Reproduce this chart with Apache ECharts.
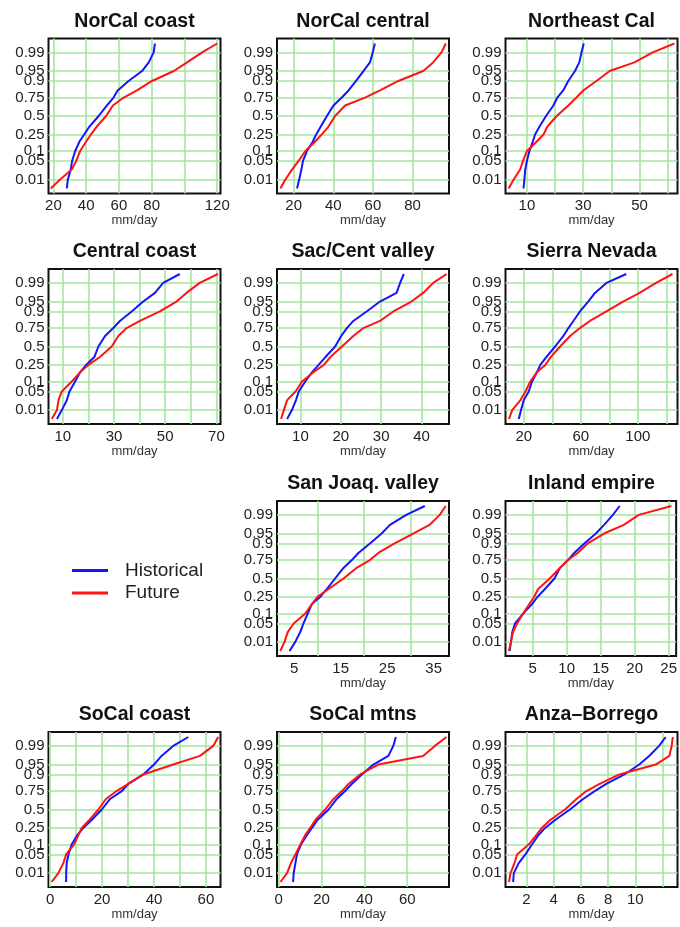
<!DOCTYPE html>
<html><head><meta charset="utf-8">
<script src="https://cdn.jsdelivr.net/npm/echarts@6/dist/echarts.min.js"></script>
<style>html,body{margin:0;padding:0;background:#fff}#chart{width:680px;height:927px}</style>
</head><body><div id="chart"></div>
<script>
// cumulative probability levels at which each curve was read
const probLevels = [0.004, 0.01, 0.025, 0.05, 0.1, 0.175, 0.25, 0.35, 0.5, 0.65, 0.75, 0.825, 0.9, 0.95, 0.975, 0.99, 0.996];
const yTickProbs = [0.01, 0.05, 0.1, 0.25, 0.5, 0.75, 0.9, 0.95, 0.99];
const yTickLabels = ['0.01', '0.05', '0.1', '0.25', '0.5', '0.75', '0.9', '0.95', '0.99'];

const regionNames = ['NorCal coast', 'NorCal central', 'Northeast Cal', 'Central coast', 'Sac/Cent valley', 'Sierra Nevada',
  'San Joaq. valley', 'Inland empire', 'SoCal coast', 'SoCal mtns', 'Anza\u2013Borrego'];
const panelSlots = [0, 1, 2, 3, 4, 5, 7, 8, 9, 10, 11];

const xRanges = [[17, 122], [11.6, 98.4], [2.4, 63.5], [4.4, 71.6], [4.2, 46.8], [7.2, 127.8],
  [1.3, 38.3], [1.0, 26.1], [-0.6, 65.6], [-0.8, 79.5], [0.47, 13.1]];
const xTickLabels = [[20, 40, 60, 80, 120], [20, 40, 60, 80], [10, 30, 50], [10, 30, 50, 70], [10, 20, 30, 40], [20, 60, 100],
  [5, 15, 25, 35], [5, 10, 15, 20, 25], [0, 20, 40, 60], [0, 20, 40, 60], [2, 4, 6, 8, 10]];
const xGridValues = [[20, 40, 60, 80, 100, 120], [20, 40, 60, 80], [10, 20, 30, 40, 50, 60], [10, 20, 30, 40, 50, 60, 70],
  [10, 20, 30, 40], [20, 40, 60, 80, 100, 120], [10, 20, 30], [5, 10, 15, 20, 25], [0, 10, 20, 30, 40, 50, 60],
  [0, 20, 40, 60], [2, 4, 6, 8, 10, 12]];

// mm/day values at each probability level (Historical / Future)
const histNorCalCoast   = [28.2, 28.8, 30.6, 31.4, 33.3, 35.9, 38.8, 42, 47.6, 52.7, 56.7, 59.2, 65.9, 74.1, 78.2, 81.2, 82];
const futNorCalCoast    = [18.4, 24.1, 31.2, 33.9, 36.3, 40, 42.9, 46.5, 52.2, 56.3, 62.9, 71, 80.2, 93.5, 101.6, 110.8, 120];
const histNorCalCentral = [21.7, 22.8, 23.9, 24.7, 26.7, 29.7, 31.4, 33.7, 36.8, 40.1, 44.3, 47.7, 51.5, 55.2, 58.5, 59.9, 61];
const futNorCalCentral  = [13.3, 15.8, 19.2, 22.5, 25.9, 30.9, 34.2, 37.6, 40.9, 46, 56, 63.6, 72.8, 85.4, 90.4, 94.6, 96.8];
const histNortheastCal  = [8.8, 9.1, 9.4, 10, 10.9, 12.1, 12.9, 14.5, 16.8, 19.4, 20.8, 22.9, 24.7, 27.1, 28.6, 29.4, 30.2];
const futNortheastCal   = [3.5, 5.3, 7.6, 8.6, 10, 13.5, 15.9, 17.3, 20.6, 24.7, 27.6, 30, 34.7, 39.4, 48.2, 54.7, 62.4];
const histCentralCoast  = [7.7, 9.6, 11.6, 12.6, 14.8, 16.8, 19.1, 22.3, 23.9, 26.5, 29.7, 32.3, 36.9, 41.4, 46, 49.2, 55.7];
const futCentralCoast   = [5.7, 7.7, 8.3, 9.6, 13.5, 16.8, 20, 24.5, 29.1, 31.7, 34.9, 40.1, 47.9, 54.4, 58.3, 63.5, 70.6];
const histSacValley     = [6.7, 7.9, 8.9, 9.6, 11.2, 12.9, 14.5, 16.2, 18.6, 20.1, 21.5, 23.1, 26.4, 29.7, 33.8, 34.7, 35.6];
const futSacValley      = [5.2, 5.9, 6.7, 8.8, 10.4, 13.3, 15.8, 17.4, 20.3, 23.1, 25.6, 29.7, 33, 37.5, 40.4, 42.9, 46.2];
const histSierraNevada  = [16.5, 18.1, 20, 23.5, 25.8, 29.3, 31.6, 35.8, 42, 47.8, 51.3, 54.8, 59.4, 65.2, 69.9, 78, 91.9];
const futSierraNevada   = [9.6, 11.9, 17.7, 21.2, 24.6, 29.3, 35.1, 39, 45.5, 52.5, 59.4, 66.4, 78, 89.6, 101.2, 112.8, 124.3];
const histSanJoaquin    = [4, 5.2, 6.3, 7, 7.9, 8.8, 10.6, 12, 13.8, 15.6, 17.4, 18.8, 21.3, 23.8, 25.6, 29.1, 33.1];
const futSanJoaquin     = [2, 2.9, 3.6, 4.9, 7.4, 8.8, 10, 12.4, 15.6, 18.4, 21.3, 23.1, 26.6, 30.6, 34.1, 36.3, 37.6];
const histInlandEmpire  = [1.6, 1.8, 2, 2.4, 3.6, 4.9, 5.7, 6.8, 8.2, 9, 10.2, 11.1, 12.6, 14.3, 15.5, 16.8, 17.8];
const futInlandEmpire   = [1.5, 1.8, 2.1, 2.7, 3.6, 4.5, 5.2, 5.8, 7.5, 9, 10.2, 11.6, 13.1, 15.5, 18.4, 20.6, 25.4];
const histSoCalCoast    = [6.2, 6.2, 6.4, 7.1, 8.3, 10.5, 12.8, 16, 19.9, 23.1, 27.6, 30.1, 35.9, 40, 42.9, 47.4, 53.2];
const futSoCalCoast     = [0.6, 3.2, 5.1, 6.2, 9.2, 10.9, 12.2, 15.1, 18.6, 21.5, 25.6, 30.1, 35.9, 47.4, 57.7, 62.8, 64.7];
const histSoCalMtns     = [6.7, 7, 7.8, 8.5, 10.4, 13.2, 15.5, 18.1, 23.3, 27.1, 31, 34.1, 38.8, 44.2, 51.2, 53.5, 54.7];
const futSoCalMtns      = [0.8, 3.9, 5.7, 7.8, 10.1, 12.4, 14.7, 17.1, 21.7, 25.6, 29.5, 32.6, 38, 46.5, 67.4, 72.9, 78.3];
const histAnzaBorrego   = [1.03, 1.08, 1.44, 1.93, 2.41, 2.9, 3.38, 4.11, 5.2, 6.17, 7.02, 7.87, 9.2, 10.29, 11.02, 11.75, 12.23];
const futAnzaBorrego    = [0.72, 0.84, 1.13, 1.32, 2.17, 2.73, 3.14, 3.75, 4.84, 5.68, 6.41, 7.38, 8.84, 11.5, 12.5, 12.67, 12.76];

const historical = [histNorCalCoast, histNorCalCentral, histNortheastCal, histCentralCoast, histSacValley, histSierraNevada,
  histSanJoaquin, histInlandEmpire, histSoCalCoast, histSoCalMtns, histAnzaBorrego];
const future = [futNorCalCoast, futNorCalCentral, futNortheastCal, futCentralCoast, futSacValley, futSierraNevada,
  futSanJoaquin, futInlandEmpire, futSoCalCoast, futSoCalMtns, futAnzaBorrego];

// inverse normal CDF (probability-paper scale)
function qnorm(p) {
  const a = [-3.969683028665376e+01, 2.209460984245205e+02, -2.759285104469687e+02, 1.383577518672690e+02, -3.066479806614716e+01, 2.506628277459239e+00];
  const b = [-5.447609879822406e+01, 1.615858368580409e+02, -1.556989798598866e+02, 6.680131188771972e+01, -1.328068155288572e+01];
  const c = [-7.784894002430293e-03, -3.223964580411365e-01, -2.400758277161838e+00, -2.549732539343734e+00, 4.374664141464968e+00, 2.938163982698783e+00];
  const d = [7.784695709041462e-03, 3.224671290700398e-01, 2.445134137142996e+00, 3.754408661907416e+00];
  const pl = 0.02425, ph = 1 - pl;
  let q, r;
  if (p < pl) { q = Math.sqrt(-2 * Math.log(p)); return (((((c[0]*q+c[1])*q+c[2])*q+c[3])*q+c[4])*q+c[5]) / ((((d[0]*q+d[1])*q+d[2])*q+d[3])*q+1); }
  if (p <= ph) { q = p - 0.5; r = q*q; return (((((a[0]*r+a[1])*r+a[2])*r+a[3])*r+a[4])*r+a[5])*q / (((((b[0]*r+b[1])*r+b[2])*r+b[3])*r+b[4])*r+1); }
  q = Math.sqrt(-2 * Math.log(1 - p)); return -(((((c[0]*q+c[1])*q+c[2])*q+c[3])*q+c[4])*q+c[5]) / ((((d[0]*q+d[1])*q+d[2])*q+d[3])*q+1);
}

const FONT = '"Liberation Sans", Arial, Helvetica, sans-serif';
const colLeft = [48.5, 277, 505.5];
const rowTop = [38.5, 269, 501, 732];
const GW = 172, GH = 155;
const Z = 2.835;
const yTickZ = yTickProbs.map(qnorm);

const grids = [], xAxes = [], yAxes = [], series = [], titles = [];
regionNames.forEach((name, i) => {
  const slot = panelSlots[i];
  const col = slot % 3, row = Math.floor(slot / 3);
  grids.push({ left: colLeft[col], top: rowTop[row], width: GW, height: GH, show: true,
    borderColor: '#111', borderWidth: 2, backgroundColor: '#fff', containLabel: false });
  titles.push({ text: name, left: colLeft[col] + GW / 2, top: rowTop[row] - 27, textAlign: 'center', padding: 0,
    textStyle: { fontFamily: FONT, fontWeight: 'bold', fontSize: 19.5, color: '#111' } });
  xAxes.push({ type: 'value', gridIndex: i, min: xRanges[i][0], max: xRanges[i][1],
    name: 'mm/day', nameLocation: 'middle', nameGap: 20,
    nameTextStyle: { fontFamily: FONT, fontSize: 13, color: '#333' },
    axisLine: { show: false }, axisTick: { show: false, customValues: xTickLabels[i] }, splitLine: { show: false },
    axisLabel: { customValues: xTickLabels[i], margin: 5, fontFamily: FONT, fontSize: 15, color: '#222',
      formatter: v => String(Math.round(v * 100) / 100) } });
  yAxes.push({ type: 'value', gridIndex: i, min: -Z, max: Z,
    axisLine: { show: false }, axisTick: { show: false, customValues: yTickZ }, splitLine: { show: false },
    axisLabel: { customValues: yTickZ, margin: 4, fontFamily: FONT, fontSize: 15, color: '#222',
      formatter: v => { let best = 0; yTickZ.forEach((z, k) => { if (Math.abs(z - v) < Math.abs(yTickZ[best] - v)) best = k; }); return yTickLabels[best]; } } });
  // green grid lines
  series.push({ type: 'line', xAxisIndex: i, yAxisIndex: i, data: [], z: 1, silent: true,
    markLine: { silent: true, symbol: ['none', 'none'], animation: false, label: { show: false },
      lineStyle: { color: '#a3e79d', width: 1.6, type: 'solid' },
      emphasis: { disabled: true },
      data: xGridValues[i].map(v => ({ xAxis: v })).concat(yTickZ.map(z => ({ yAxis: z }))) } });
  series.push({ type: 'line', name: 'Historical', xAxisIndex: i, yAxisIndex: i, zlevel: 1, z: 3, showSymbol: false, symbol: 'none',
    color: '#1414ff', lineStyle: { width: 2, color: '#1414ff' },
    data: historical[i].map((x, k) => [x, qnorm(probLevels[k])]) });
  series.push({ type: 'line', name: 'Future', xAxisIndex: i, yAxisIndex: i, zlevel: 1, z: 3, showSymbol: false, symbol: 'none',
    color: '#ff1414', lineStyle: { width: 2, color: '#ff1414' },
    data: future[i].map((x, k) => [x, qnorm(probLevels[k])]) });
});

const chart = echarts.init(document.getElementById('chart'), null, { renderer: 'canvas' });
chart.setOption({
  animation: false,
  backgroundColor: '#fff',
  textStyle: { fontFamily: FONT },
  title: titles,
  grid: grids, xAxis: xAxes, yAxis: yAxes, series: series,
  legend: { data: ['Historical', 'Future'], orient: 'vertical', left: 72, top: 561, padding: 0, icon: 'rect',
    itemWidth: 36, itemHeight: 3, itemGap: 3.5, selectedMode: false,
    textStyle: { fontFamily: FONT, fontSize: 19, color: '#222', lineHeight: 19, padding: [0, 0, 0, 12] } }
});
</script></body></html>
